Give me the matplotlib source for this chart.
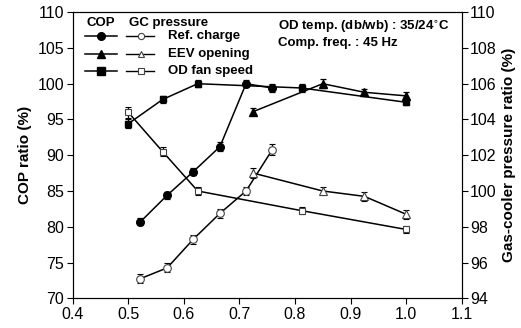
import matplotlib
matplotlib.use('Agg')
import matplotlib.pyplot as plt
from matplotlib.lines import Line2D

plt.rcParams['font.family'] = ['Liberation Sans', 'DejaVu Sans']

# COP ratio (left axis)
x_charge = [0.522, 0.570, 0.617, 0.665, 0.712, 0.759]
cop_charge = [80.7, 84.4, 87.7, 91.2, 100.0, 99.4]
cop_charge_err = [0.5, 0.5, 0.5, 0.6, 0.5, 0.5]
x_eev = [0.725, 0.850, 0.925, 1.000]
cop_eev = [96.1, 100.0, 98.8, 98.3]
cop_eev_err = [0.5, 0.6, 0.5, 0.5]
x_fan = [0.500, 0.562, 0.625, 0.812, 1.000]
cop_fan = [94.4, 97.8, 100.0, 99.4, 97.4]
cop_fan_err = [0.6, 0.5, 0.5, 0.5, 0.4]

# gas-cooler pressure ratio (right axis)
gc_charge = [95.1, 95.7, 97.3, 98.75, 100.0, 102.3]
gc_charge_err = [0.25, 0.25, 0.25, 0.25, 0.25, 0.3]
gc_eev = [101.0, 100.0, 99.7, 98.7]
gc_eev_err = [0.3, 0.25, 0.25, 0.25]
gc_fan = [104.4, 102.2, 100.0, 98.9, 97.85]
gc_fan_err = [0.3, 0.25, 0.25, 0.2, 0.2]

fig = plt.figure(figsize=(5.21, 3.28), dpi=100)
ax = fig.add_axes([0.1395, 0.0906, 0.7466, 0.8723])
ax2 = ax.twinx()

ms = 5.5
ekw = dict(ecolor='black', elinewidth=0.9, capsize=2, capthick=0.9, color='black', lw=1.1)

ax.errorbar(x_charge, cop_charge, yerr=cop_charge_err, fmt='-o', ms=ms, mfc='black', mec='black', **ekw)
ax.errorbar(x_eev, cop_eev, yerr=cop_eev_err, fmt='-^', ms=ms, mfc='black', mec='black', **ekw)
ax.errorbar(x_fan, cop_fan, yerr=cop_fan_err, fmt='-s', ms=ms - 0.5, mfc='black', mec='black', **ekw)

okw = dict(mfc='white', mec='#444444', mew=0.8)
ax2.errorbar(x_charge, gc_charge, yerr=gc_charge_err, fmt='-o', ms=ms, **okw, **ekw)
ax2.errorbar(x_eev, gc_eev, yerr=gc_eev_err, fmt='-^', ms=ms, **okw, **ekw)
ax2.errorbar(x_fan, gc_fan, yerr=gc_fan_err, fmt='-s', ms=ms - 0.5, **okw, **ekw)

ax.set_xlim(0.4, 1.1)
ax.set_ylim(70, 110)
ax2.set_ylim(94, 110)
ax.set_xticks([0.4, 0.5, 0.6, 0.7, 0.8, 0.9, 1.0, 1.1])
ax.set_xticklabels(['0.4', '0.5', '0.6', '0.7', '0.8', '0.9', '1.0', '1.1'])
ax.set_yticks(range(70, 111, 5))
ax2.set_yticks(range(94, 111, 2))
for a in (ax, ax2):
    a.tick_params(direction='out', length=4, width=0.8, labelsize=11.5, pad=2)
    for s in a.spines.values():
        s.set_linewidth(0.8)

ax.set_ylabel('COP ratio (%)', fontsize=11, fontweight='bold', labelpad=4)
ax2.set_ylabel('Gas-cooler pressure ratio (%)', fontsize=11, fontweight='bold', labelpad=4)

# legend drawn by hand: two handle columns
fs = 9.5
ax.text(0.073, 0.962, 'COP', transform=ax.transAxes, ha='center', va='center',
        fontsize=fs, fontweight='bold')
ax.text(0.145, 0.962, 'GC pressure', transform=ax.transAxes, ha='left', va='center',
        fontsize=fs, fontweight='bold')
rows = [0.918, 0.855, 0.796]
labels = ['Ref. charge', 'EEV opening', 'OD fan speed']
markers = ['o', '^', 's']
for yy, lab, m in zip(rows, labels, markers):
    ax.add_line(Line2D([0.032, 0.073, 0.113], [yy, yy, yy], transform=ax.transAxes, color='black', lw=1.1,
                       marker=m, markevery=[1], ms=ms, mfc='black', mec='black'))
    ax.add_line(Line2D([0.137, 0.175, 0.21], [yy, yy, yy], transform=ax.transAxes, color='black', lw=1.0,
                       marker=m, markevery=[1], ms=ms - 1, mfc='white', mec='#444444', mew=0.8))
    ax.text(0.245, yy, lab, transform=ax.transAxes, ha='left', va='center',
            fontsize=fs, fontweight='bold')

ax.text(0.529, 0.949, 'OD temp. (db/wb) : 35/24$^{\\circ}$C', transform=ax.transAxes,
        ha='left', va='center', fontsize=fs, fontweight='bold')
ax.text(0.529, 0.893, 'Comp. freq. : 45 Hz', transform=ax.transAxes,
        ha='left', va='center', fontsize=fs, fontweight='bold')

fig.savefig('out.png', dpi=100)
